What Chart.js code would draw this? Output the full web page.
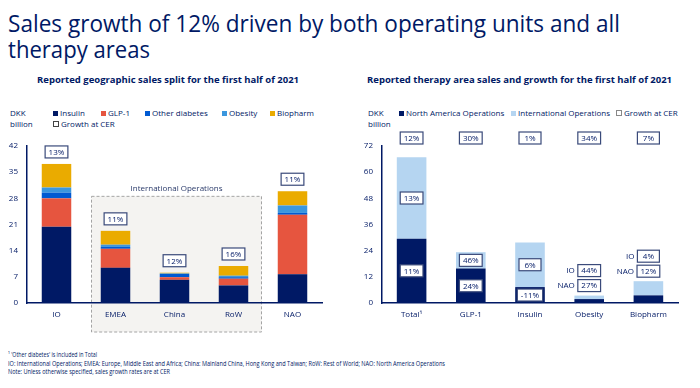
<!DOCTYPE html>
<html>
<head>
<meta charset="utf-8">
<script src="https://cdn.jsdelivr.net/npm/chart.js@4"></script>
<style>
  body { margin: 0; width: 700px; height: 388px; background: #fff; position: relative; overflow: hidden;
         font-family: 'Open Sans', 'Noto Sans', sans-serif; color: #001965; }
  .abs { position: absolute; white-space: nowrap; }
  .fit { display: inline-block; transform-origin: 0 50%; }
  .title { left: 8px; top: 10px; font-size: 23px; line-height: 26px; }
  .sub { top: 73px; font-size: 9px; font-weight: 700; }
  .leg { font-size: 8px; line-height: 11px; }
  .sq { display: inline-block; width: 5px; height: 5px; margin-right: 2px; vertical-align: 0px; }
  .sq.box { width: 4px; height: 4px; border: 1px solid #444; background: #fff; }
  .foot { left: 8px; top: 351px; font-size: 7px; line-height: 8.7px; }
  canvas { position: absolute; top: 0; }
</style>
</head>
<body>
<div class="abs title"><span class="fit" data-w="612">Sales growth of 12% driven by both operating units and all</span><br><span class="fit" data-w="142">therapy areas</span></div>

<div class="abs sub" style="left:37px"><span class="fit" data-w="262">Reported geographic sales split for the first half of 2021</span></div>
<div class="abs sub" style="left:367px"><span class="fit" data-w="305">Reported therapy area sales and growth for the first half of 2021</span></div>

<div class="abs leg" style="left:10px;top:107px">DKK<br>billion</div>
<div class="abs leg" style="left:53px;top:107px"><span class="sq" style="background:#001965"></span>Insulin</div>
<div class="abs leg" style="left:101px;top:107px"><span class="sq" style="background:#e6553f"></span>GLP-1</div>
<div class="abs leg" style="left:145px;top:107px"><span class="sq" style="background:#005ad2"></span>Other diabetes</div>
<div class="abs leg" style="left:222px;top:107px"><span class="sq" style="background:#3b97de"></span>Obesity</div>
<div class="abs leg" style="left:270px;top:107px"><span class="sq" style="background:#eaab00"></span>Biopharm</div>
<div class="abs leg" style="left:53px;top:118px"><span class="sq box"></span>Growth at CER</div>

<div class="abs leg" style="left:368px;top:107px">DKK<br>billion</div>
<div class="abs leg" style="left:399px;top:107px"><span class="sq" style="background:#001965"></span>North America Operations</div>
<div class="abs leg" style="left:511px;top:107px"><span class="sq" style="background:#b5d5f1"></span>International Operations</div>
<div class="abs leg" style="left:616px;top:107px"><span class="sq box" style="border-color:#888"></span>Growth at CER</div>

<canvas id="geo" width="350" height="340" style="left:0;width:350px;height:340px"></canvas>
<canvas id="ther" width="350" height="340" style="left:350px;width:350px;height:340px"></canvas>

<div class="abs foot">
  <div><span class="fit" data-w="89">¹ 'Other diabetes' is included in Total</span></div>
  <div><span class="fit" data-w="437">IO: International Operations; EMEA: Europe, Middle East and Africa; China: Mainland China, Hong Kong and Taiwan; RoW: Rest of World; NAO: North America Operations</span></div>
  <div><span class="fit" data-w="162">Note: Unless otherwise specified, sales growth rates are at CER</span></div>
</div>

<script>
// ---- data: geographic split (DKK billion)
const geoLabels = ['IO', 'EMEA', 'China', 'RoW', 'NAO'];
const geoInsulin = [20.4, 9.4, 6.2, 4.7, 7.7];
const geoGlp1 = [7.6, 5.1, 0.7, 1.8, 15.9];
const geoOtherDiab = [1.5, 0.5, 0.9, 0.4, 0.5];
const geoObesity = [1.4, 0.6, 0.1, 0.4, 2.0];
const geoBiopharm = [6.3, 3.7, 0.2, 2.6, 3.8];
const geoGrowth = ['13%', '11%', '12%', '16%', '11%'];
const geoTicks = [0, 7, 14, 21, 28, 35, 42];

// ---- data: therapy areas (DKK billion)
const therLabels = ['Total¹', 'GLP-1', 'Insulin', 'Obesity', 'Biopharm'];
const therNao = [29.5, 15.8, 7.3, 1.8, 3.5];
const therIo = [37.3, 7.5, 20.5, 1.6, 6.5];
const therGrowth = ['12%', '30%', '1%', '34%', '7%'];
const therGrowthNao = ['11%', '24%', '-11%', '27%', '12%'];
const therGrowthIo = ['13%', '46%', '6%', '44%', '4%'];
const therTicks = [0, 12, 24, 36, 48, 60, 72];

const NAVY = '#001965';
const FONT = "'Open Sans', 'Noto Sans', sans-serif";

// squeeze text spans to the widths seen in the reference
document.querySelectorAll('.fit').forEach(el => {
  const w = el.getBoundingClientRect().width;
  el.style.transform = 'scaleX(' + (el.dataset.w / w) + ')';
});

function growthBox(ctx, cx, cy, text, prefix) {
  ctx.save();
  ctx.font = '8px ' + FONT;
  const w = Math.max(22, ctx.measureText(text).width + 7), h = 12;
  ctx.fillStyle = '#fff';
  ctx.fillRect(cx - w / 2, cy - h / 2, w, h);
  ctx.strokeStyle = '#3a4a7a';
  ctx.lineWidth = 1.2;
  ctx.strokeRect(cx - w / 2, cy - h / 2, w, h);
  ctx.fillStyle = NAVY;
  ctx.textAlign = 'center';
  ctx.textBaseline = 'middle';
  ctx.fillText(text, cx, cy + 0.5);
  if (prefix) {
    ctx.textAlign = 'right';
    ctx.fillText(prefix, cx - w / 2 - 3, cy + 0.5);
  }
  ctx.restore();
}

function axisOpts(max, ticks, yWidth) {
  return {
    x: {
      stacked: true,
      grid: { display: false, drawTicks: false },
      border: { display: true, color: NAVY, width: 1.5 },
      ticks: { color: NAVY, font: { size: 8, family: FONT }, padding: 7 },
      afterFit: s => { s.height = 37; }
    },
    y: {
      stacked: true,
      min: 0, max: max,
      grid: { display: false, drawTicks: false },
      border: { display: true, color: NAVY, width: 1.5 },
      afterBuildTicks: s => { s.ticks = ticks.map(v => ({ value: v })); },
      ticks: { color: NAVY, font: { size: 8, family: FONT }, padding: 9 },
      afterFit: s => { s.width = yWidth; }
    }
  };
}

const ioBoxPlugin = {
  id: 'ioBox',
  beforeDraw(chart) {
    const { ctx, chartArea } = chart;
    const x = chart.scales.x, y = chart.scales.y;
    const left = x.getPixelForValue(1) - 24, right = x.getPixelForValue(3) + 28;
    const top = y.getPixelForValue(28) - 2, bottom = chartArea.bottom + 29;
    ctx.save();
    ctx.fillStyle = '#f4f3f1';
    ctx.fillRect(left, top, right - left, bottom - top);
    ctx.strokeStyle = '#a4a4a4';
    ctx.lineWidth = 1;
    ctx.setLineDash([3, 2]);
    ctx.strokeRect(left, top, right - left, bottom - top);
    ctx.setLineDash([]);
    ctx.fillStyle = '#2a3a6a';
    ctx.font = '8px ' + FONT;
    ctx.textAlign = 'center';
    ctx.textBaseline = 'middle';
    ctx.fillText('International Operations', (left + right) / 2, top - 8);
    ctx.restore();
  },
  afterDatasetsDraw(chart) {
    const x = chart.scales.x, y = chart.scales.y;
    geoLabels.forEach((l, i) => {
      const total = geoInsulin[i] + geoGlp1[i] + geoOtherDiab[i] + geoObesity[i] + geoBiopharm[i];
      growthBox(chart.ctx, x.getPixelForValue(i), y.getPixelForValue(total) - 12, geoGrowth[i]);
    });
  }
};

const therBoxPlugin = {
  id: 'therBox',
  afterDatasetsDraw(chart) {
    const { ctx, chartArea } = chart;
    const x = chart.scales.x, y = chart.scales.y;
    therLabels.forEach((l, i) => {
      const cx = x.getPixelForValue(i);
      growthBox(ctx, cx, chartArea.top - 8, therGrowth[i]);
      const top = therNao[i] + therIo[i];
      if (i < 3) {
        growthBox(ctx, cx, y.getPixelForValue((therNao[i] + top) / 2), therGrowthIo[i]);
        growthBox(ctx, cx, y.getPixelForValue(therNao[i] / 2), therGrowthNao[i]);
      } else {
        const py = y.getPixelForValue(top);
        growthBox(ctx, cx, py - 25, therGrowthIo[i], 'IO');
        growthBox(ctx, cx, py - 10, therGrowthNao[i], 'NAO');
      }
    });
  }
};

function bars(label, data, color) {
  return { label, data, backgroundColor: color, barPercentage: 0.5, categoryPercentage: 1 };
}

new Chart(document.getElementById('geo'), {
  type: 'bar',
  data: {
    labels: geoLabels,
    datasets: [
      bars('Insulin', geoInsulin, NAVY),
      bars('GLP-1', geoGlp1, '#e6553f'),
      bars('Other diabetes', geoOtherDiab, '#005ad2'),
      bars('Obesity', geoObesity, '#3b97de'),
      bars('Biopharm', geoBiopharm, '#eaab00')
    ]
  },
  options: {
    responsive: false,
    animation: false,
    layout: { padding: { top: 146, right: 28, left: 0, bottom: 0 } },
    scales: axisOpts(42, geoTicks, 27),
    plugins: { legend: { display: false }, tooltip: { enabled: false } }
  },
  plugins: [ioBoxPlugin]
});

new Chart(document.getElementById('ther'), {
  type: 'bar',
  data: {
    labels: therLabels,
    datasets: [
      bars('North America Operations', therNao, NAVY),
      bars('International Operations', therIo, '#b5d5f1')
    ]
  },
  options: {
    responsive: false,
    animation: false,
    layout: { padding: { top: 146, right: 22, left: 0, bottom: 0 } },
    scales: axisOpts(72, therTicks, 32),
    plugins: { legend: { display: false }, tooltip: { enabled: false } }
  },
  plugins: [therBoxPlugin]
});
</script>
</body>
</html>
